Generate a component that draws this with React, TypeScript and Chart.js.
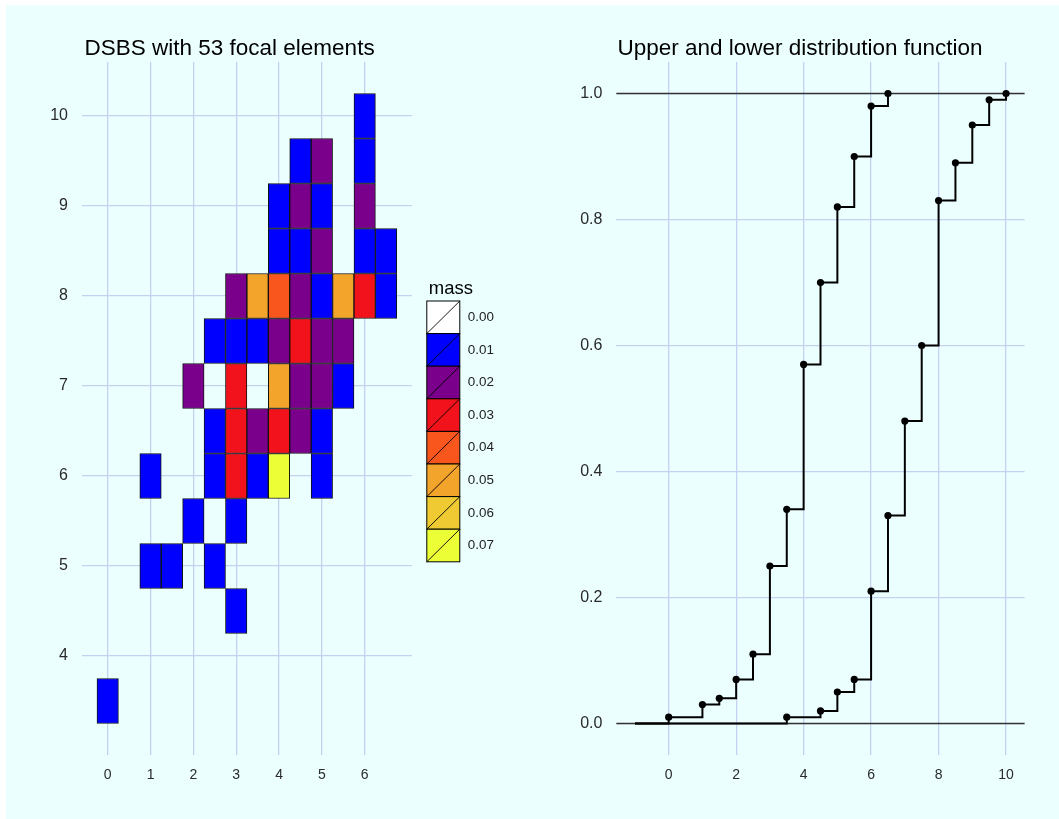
import React, { useEffect, useRef } from "react";
import { Chart, registerables } from "chart.js";

Chart.register(...registerables);

const leftTitle = "DSBS with 53 focal elements";
const rightTitle = "Upper and lower distribution function";

// focal elements: cell centres (x, y) and their masses
const focalX = [
  6,
  4.5, 5, 6,
  4, 4.5, 5, 6,
  4, 4.5, 5, 6, 6.5,
  3, 3.5, 4, 4.5, 5, 5.5, 6, 6.5,
  2.5, 3, 3.5, 4, 4.5, 5, 5.5,
  2, 3, 4, 4.5, 5, 5.5,
  2.5, 3, 3.5, 4, 4.5, 5,
  1, 2.5, 3, 3.5, 4, 5,
  2, 3,
  1, 1.5, 2.5,
  3,
  0,
];
const focalY = [
  10,
  9.5, 9.5, 9.5,
  9, 9, 9, 9,
  8.5, 8.5, 8.5, 8.5, 8.5,
  8, 8, 8, 8, 8, 8, 8, 8,
  7.5, 7.5, 7.5, 7.5, 7.5, 7.5, 7.5,
  7, 7, 7, 7, 7, 7,
  6.5, 6.5, 6.5, 6.5, 6.5, 6.5,
  6, 6, 6, 6, 6, 6,
  5.5, 5.5,
  5, 5, 5,
  4.5,
  3.5,
];
const focalMass = [
  0.01,
  0.01, 0.02, 0.01,
  0.01, 0.02, 0.01, 0.02,
  0.01, 0.01, 0.02, 0.01, 0.01,
  0.02, 0.05, 0.04, 0.02, 0.01, 0.05, 0.03, 0.01,
  0.01, 0.01, 0.01, 0.02, 0.03, 0.02, 0.02,
  0.02, 0.03, 0.05, 0.02, 0.02, 0.01,
  0.01, 0.03, 0.02, 0.03, 0.02, 0.01,
  0.01, 0.01, 0.03, 0.01, 0.07, 0.01,
  0.01, 0.01,
  0.01, 0.01, 0.01,
  0.01,
  0.01,
];
const CELL_HALF = 0.25;

// legend
const massTitle = "mass";
const massLabels = ["0.00", "0.01", "0.02", "0.03", "0.04", "0.05", "0.06", "0.07"];
const massColors = ["#FFFFFF", "#0000FF", "#7A008C", "#F2121C", "#F8561C", "#F3A42A", "#F0CA32", "#ECFF36"];

// left axes
const leftXTicks = [0, 1, 2, 3, 4, 5, 6];
const leftYTicks = [4, 5, 6, 7, 8, 9, 10];

// right panel: upper and lower distribution functions
const upperX = [-1, 0, 1, 1.5, 2, 2.5, 3, 3.5, 4, 4.5, 5, 5.5, 6, 6.5];
const upperY = [0, 0.01, 0.03, 0.04, 0.07, 0.11, 0.25, 0.34, 0.57, 0.7, 0.82, 0.9, 0.98, 1.0];
const lowerX = [-1, 3.5, 4.5, 5, 5.5, 6, 6.5, 7, 7.5, 8, 8.5, 9, 9.5, 10];
const lowerY = [0, 0.01, 0.02, 0.05, 0.07, 0.21, 0.33, 0.48, 0.6, 0.83, 0.89, 0.95, 0.99, 1.0];
const refLines = [0, 1];
const rightXTicks = [0, 2, 4, 6, 8, 10];
const rightYTicks = [0, 0.2, 0.4, 0.6, 0.8, 1.0];
const rightYLabels = ["0.0", "0.2", "0.4", "0.6", "0.8", "1.0"];

const FONT = '"Liberation Sans", Arial, Helvetica, sans-serif';
const BG = "#ECFFFF";
const GRID = "#C6D0F0";
const TICK_COLOR = "#2a2a2a";

const colorForMass = (m: number) => massColors[Math.round(m * 100)];

const titlePlugin = (text: string, dx: number) => ({
  id: "panelTitle",
  afterDraw(chart: any) {
    const { ctx, chartArea } = chart;
    ctx.save();
    ctx.font = `22.5px ${FONT}`;
    ctx.fillStyle = "#000";
    ctx.textAlign = "left";
    ctx.textBaseline = "alphabetic";
    ctx.fillText(text, chartArea.left + dx, chartArea.top - 7);
    ctx.restore();
  },
});

const massLegendPlugin = {
  id: "massLegend",
  afterDraw(chart: any) {
    const { ctx, chartArea } = chart;
    const left = chartArea.right + 15;
    const top = 296;
    const w = 33;
    const h = 32.6;
    ctx.save();
    ctx.font = `18.5px ${FONT}`;
    ctx.fillStyle = "#000";
    ctx.textAlign = "left";
    ctx.textBaseline = "alphabetic";
    ctx.fillText(massTitle, left + 2, top - 7);
    massLabels.forEach((lab, i) => {
      const y = top + i * h;
      ctx.fillStyle = massColors[i];
      ctx.fillRect(left, y, w, h);
      ctx.strokeStyle = "#000";
      ctx.lineWidth = 1;
      ctx.strokeRect(left, y, w, h);
      ctx.beginPath();
      ctx.lineWidth = 0.9;
      ctx.moveTo(left, y + h);
      ctx.lineTo(left + w, y);
      ctx.stroke();
      ctx.fillStyle = "#222";
      ctx.font = `13.4px ${FONT}`;
      ctx.textBaseline = "middle";
      ctx.fillText(lab, left + w + 8, y + h / 2);
      ctx.textBaseline = "alphabetic";
    });
    ctx.restore();
  },
};

const refLinePlugin = {
  id: "refLines",
  beforeDatasetsDraw(chart: any) {
    const { ctx, chartArea, scales } = chart;
    ctx.save();
    ctx.strokeStyle = "#333";
    ctx.lineWidth = 1.4;
    refLines.forEach((v) => {
      const py = scales.y.getPixelForValue(v);
      ctx.beginPath();
      ctx.moveTo(chartArea.left, py);
      ctx.lineTo(chartArea.right, py);
      ctx.stroke();
    });
    ctx.restore();
  },
};

const gridOpts = { color: GRID, lineWidth: 1.3, drawTicks: false, offset: false };

export default function App() {
  const leftRef = useRef<HTMLCanvasElement | null>(null);
  const rightRef = useRef<HTMLCanvasElement | null>(null);

  useEffect(() => {
    Chart.defaults.font.family = FONT;
    Chart.defaults.color = TICK_COLOR;

    const left = new Chart(leftRef.current as HTMLCanvasElement, {
      type: "bar",
      data: {
        datasets: [
          {
            data: focalX.map((x, i) => ({ x, y: [focalY[i] - CELL_HALF, focalY[i] + CELL_HALF] })) as any,
            backgroundColor: focalMass.map(colorForMass),
            borderColor: "#111",
            borderWidth: 1,
            borderSkipped: false,
            barPercentage: 1,
            categoryPercentage: 1,
          } as any,
        ],
      },
      options: {
        responsive: false,
        animation: false,
        devicePixelRatio: 1,
        layout: { padding: { left: 0, right: 128.2, top: 57, bottom: 0 } },
        plugins: { legend: { display: false }, tooltip: { enabled: false }, title: { display: false } },
        scales: {
          x: {
            type: "linear",
            min: -0.6,
            max: 7.1,
            offset: false,
            grid: gridOpts,
            border: { display: false },
            afterBuildTicks: (s: any) => {
              s.ticks = leftXTicks.map((v) => ({ value: v }));
            },
            afterFit: (s: any) => {
              s.height = 64;
            },
            ticks: { font: { size: 14 }, padding: 12, maxRotation: 0, autoSkip: false, color: TICK_COLOR },
          },
          y: {
            type: "linear",
            min: 2.9,
            max: 10.6,
            grid: gridOpts,
            border: { display: false },
            afterBuildTicks: (s: any) => {
              s.ticks = leftYTicks.map((v) => ({ value: v }));
            },
            afterFit: (s: any) => {
              s.width = 76;
            },
            ticks: { font: { size: 16 }, padding: 14, autoSkip: false, color: TICK_COLOR },
          },
        },
      } as any,
      plugins: [titlePlugin(leftTitle, 2.5), massLegendPlugin],
    });

    const stepDataset = (xs: number[], ys: number[]) => ({
      data: xs.map((x, i) => ({ x, y: ys[i] })),
      stepped: "before",
      borderColor: "#000",
      borderWidth: 2,
      fill: false,
      pointRadius: (c: any) => (c.dataIndex === 0 ? 0 : 3.6),
      pointBackgroundColor: "#000",
      pointBorderColor: "#000",
      pointBorderWidth: 0,
    });

    const right = new Chart(rightRef.current as HTMLCanvasElement, {
      type: "line",
      data: {
        datasets: [stepDataset(upperX, upperY), stepDataset(lowerX, lowerY)] as any,
      },
      options: {
        responsive: false,
        animation: false,
        devicePixelRatio: 1,
        layout: { padding: { left: 0, right: 34.4, top: 57, bottom: 0 } },
        plugins: { legend: { display: false }, tooltip: { enabled: false }, title: { display: false } },
        scales: {
          x: {
            type: "linear",
            min: -1.55,
            max: 10.55,
            grid: gridOpts,
            border: { display: false },
            afterBuildTicks: (s: any) => {
              s.ticks = rightXTicks.map((v) => ({ value: v }));
            },
            afterFit: (s: any) => {
              s.height = 64;
            },
            ticks: { font: { size: 14 }, padding: 12, maxRotation: 0, autoSkip: false, color: TICK_COLOR },
          },
          y: {
            type: "linear",
            min: -0.05,
            max: 1.05,
            grid: gridOpts,
            border: { display: false },
            afterBuildTicks: (s: any) => {
              s.ticks = rightYTicks.map((v) => ({ value: v }));
            },
            afterFit: (s: any) => {
              s.width = 76.4;
            },
            ticks: {
              font: { size: 16 },
              padding: 14,
              autoSkip: false,
              color: TICK_COLOR,
              callback: (_v: any, i: number) => rightYLabels[i],
            },
          },
        },
      } as any,
      plugins: [refLinePlugin, titlePlugin(rightTitle, 1)],
    });

    return () => {
      left.destroy();
      right.destroy();
    };
  }, []);

  return (
    <div
      style={{
        position: "absolute",
        left: 6,
        top: 5,
        width: 1053,
        height: 814,
        background: BG,
        overflow: "hidden",
      }}
    >
      <canvas ref={leftRef} width={534} height={814} style={{ position: "absolute", left: 0, top: 0 }} />
      <canvas ref={rightRef} width={519} height={814} style={{ position: "absolute", left: 534, top: 0 }} />
    </div>
  );
}
